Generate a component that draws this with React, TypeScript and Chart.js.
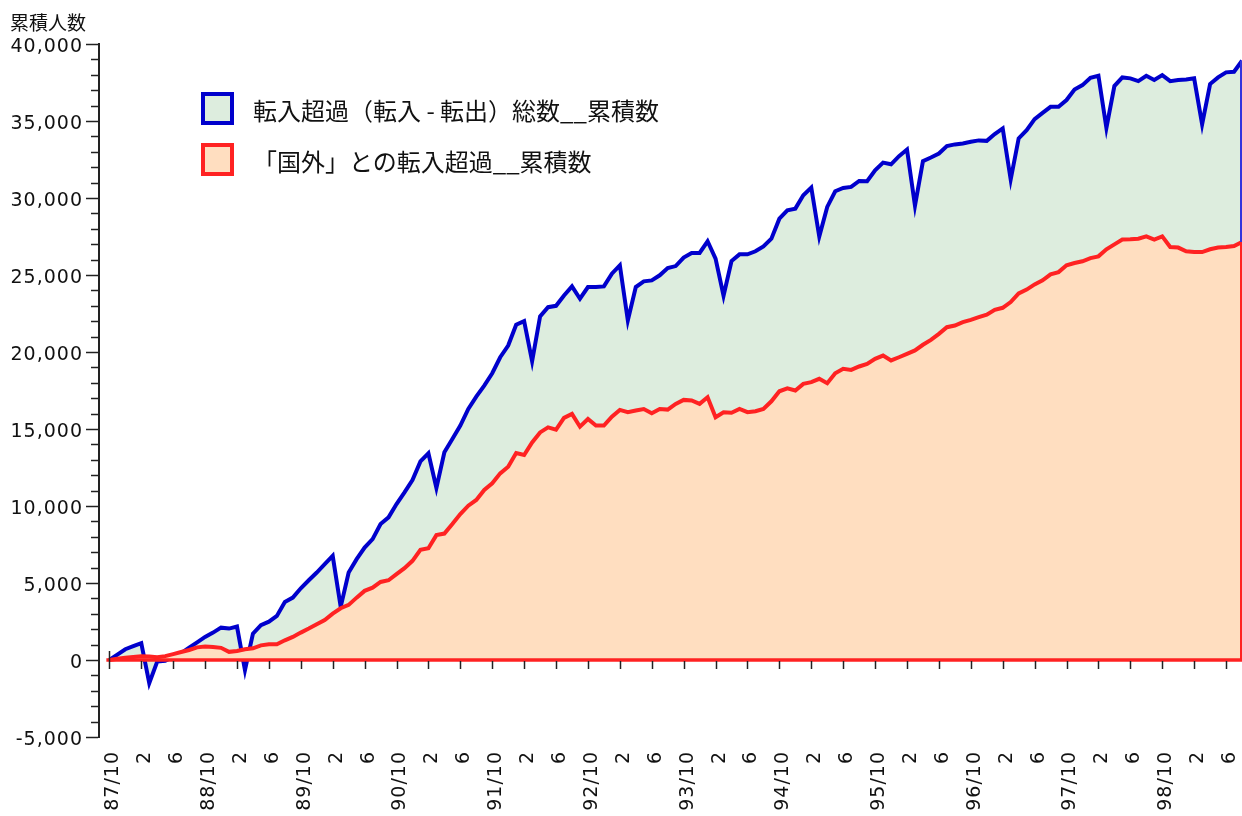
import React, { useEffect, useRef } from "react";
import { Chart, registerables } from "chart.js";

Chart.register(...registerables);

// Monthly categories: 1987/10 .. 1999/08
const months: string[] = [
  "87/10", "87/11", "87/12",
  "88/01", "88/02", "88/03", "88/04", "88/05", "88/06", "88/07", "88/08", "88/09", "88/10", "88/11", "88/12",
  "89/01", "89/02", "89/03", "89/04", "89/05", "89/06", "89/07", "89/08", "89/09", "89/10", "89/11", "89/12",
  "90/01", "90/02", "90/03", "90/04", "90/05", "90/06", "90/07", "90/08", "90/09", "90/10", "90/11", "90/12",
  "91/01", "91/02", "91/03", "91/04", "91/05", "91/06", "91/07", "91/08", "91/09", "91/10", "91/11", "91/12",
  "92/01", "92/02", "92/03", "92/04", "92/05", "92/06", "92/07", "92/08", "92/09", "92/10", "92/11", "92/12",
  "93/01", "93/02", "93/03", "93/04", "93/05", "93/06", "93/07", "93/08", "93/09", "93/10", "93/11", "93/12",
  "94/01", "94/02", "94/03", "94/04", "94/05", "94/06", "94/07", "94/08", "94/09", "94/10", "94/11", "94/12",
  "95/01", "95/02", "95/03", "95/04", "95/05", "95/06", "95/07", "95/08", "95/09", "95/10", "95/11", "95/12",
  "96/01", "96/02", "96/03", "96/04", "96/05", "96/06", "96/07", "96/08", "96/09", "96/10", "96/11", "96/12",
  "97/01", "97/02", "97/03", "97/04", "97/05", "97/06", "97/07", "97/08", "97/09", "97/10", "97/11", "97/12",
  "98/01", "98/02", "98/03", "98/04", "98/05", "98/06", "98/07", "98/08", "98/09", "98/10", "98/11", "98/12",
  "99/01", "99/02", "99/03", "99/04", "99/05", "99/06", "99/07", "99/08",
];

// 転入超過（転入 - 転出）総数__累積数
const totalNetInflow: number[] = [
  0, 350, 700,
  900, 1090, -1500, -100, -50, 200, 450, 800, 1150, 1500, 1780, 2100,
  2040, 2170, -650, 1710, 2260, 2490, 2860, 3770, 4050, 4660, 5180, 5680,
  6220, 6760, 3450, 5680, 6550, 7300, 7850, 8830, 9260, 10130, 10880, 11690,
  12900, 13420, 11170, 13490, 14350, 15220, 16300, 17100, 17820, 18620, 19660, 20420,
  21770, 22000, 19400, 22310, 22910, 23000, 23670, 24260, 23460, 24220, 24220, 24260,
  25090, 25630, 22050, 24220, 24590, 24650, 24980, 25450, 25580, 26130, 26430, 26430,
  27190, 26060, 23650, 25910, 26340, 26340, 26540, 26860, 27360, 28660, 29200, 29310,
  30180, 30680, 27500, 29420, 30440, 30650, 30720, 31110, 31090, 31800, 32300, 32190,
  32720, 33150, 29500, 32390, 32630, 32890, 33370, 33480, 33540, 33650, 33740, 33710,
  34150, 34520, 31200, 33870, 34400, 35120, 35530, 35920, 35920, 36360, 37050, 37330,
  37810, 37940, 34550, 37270, 37830, 37770, 37590, 37940, 37660, 37980, 37590, 37660,
  37700, 37770, 34780, 37400, 37830, 38160, 38200, 38910,
];

// 「国外」との転入超過__累積数
const foreignNetInflow: number[] = [
  0, 80, 150,
  200, 240, 230, 180, 250, 380, 520, 650, 820, 880, 850, 790,
  530, 590, 700, 760, 950, 1020, 1020, 1280, 1500, 1780, 2040, 2320,
  2600, 3010, 3360, 3580, 4050, 4490, 4700, 5070, 5180, 5570, 5960, 6440,
  7150, 7260, 8110, 8210, 8830, 9480, 10020, 10390, 11040, 11470, 12120, 12550,
  13440, 13310, 14130, 14780, 15110, 14960, 15720, 15980, 15150, 15650, 15220, 15220,
  15800, 16240, 16090, 16200, 16300, 16020, 16300, 16260, 16630, 16890, 16850, 16630,
  17060, 15760, 16090, 16050, 16300, 16090, 16150, 16300, 16800, 17450, 17640, 17500,
  17930, 18040, 18260, 17970, 18620, 18910, 18840, 19060, 19230, 19560, 19770, 19450,
  19660, 19880, 20100, 20470, 20790, 21180, 21610, 21720, 21940, 22090, 22260, 22420,
  22740, 22870, 23240, 23800, 24050, 24390, 24650, 25040, 25190, 25630, 25780, 25890,
  26100, 26210, 26670, 26990, 27300, 27320, 27360, 27510, 27300, 27510, 26820, 26780,
  26540, 26490, 26490, 26670, 26780, 26820, 26880, 27140,
];

const yTickValues: number[] = [-5000, 0, 5000, 10000, 15000, 20000, 25000, 30000, 35000, 40000];
const yMinorStep = 1000;
const tickMonths: string[] = ["10", "02", "06"];

const seriesNames: string[] = [
  "転入超過（転入 - 転出）総数__累積数",
  "「国外」との転入超過__累積数",
];

const BLUE = "#0000CC";
const RED = "#FF2222";
const GREEN_FILL = "rgb(221,237,222)";
const ORANGE_FILL = "rgb(255,222,192)";
const AXIS = "#222222";
const TEXT = "#111111";
const TICK_FONT = { family: "'DejaVu Sans', Verdana, sans-serif", size: 19 };
const TICK_SPACING = "1px";

function tickLabel(i: number): string {
  const m = months[i];
  if (!m) return "";
  const [, mm] = m.split("/");
  if (mm === "10") return m;
  return String(parseInt(mm, 10));
}

const xTickIndices: number[] = months
  .map((m, i) => (tickMonths.includes(m.split("/")[1]) ? i : -1))
  .filter((i) => i >= 0);

const decorPlugin = {
  id: "decor",
  beforeDraw(chart: any) {
    chart.ctx.letterSpacing = TICK_SPACING;
  },
  afterDatasetsDraw(chart: any) {
    const { ctx, scales, chartArea } = chart;
    const xs = scales.x;
    const ys = scales.y;
    const y0 = ys.getPixelForValue(0);
    const last = months.length - 1;
    const xr = Math.min(xs.getPixelForValue(last), chartArea.right - 1);
    ctx.save();
    ctx.letterSpacing = "0px";
    // right closing edges of the areas
    ctx.lineWidth = 2;
    ctx.strokeStyle = "#3333DD";
    ctx.beginPath();
    ctx.moveTo(xr, ys.getPixelForValue(totalNetInflow[last]));
    ctx.lineTo(xr, ys.getPixelForValue(foreignNetInflow[last]));
    ctx.stroke();
    ctx.strokeStyle = RED;
    ctx.beginPath();
    ctx.moveTo(xr, ys.getPixelForValue(foreignNetInflow[last]));
    ctx.lineTo(xr, y0);
    ctx.stroke();
    // zero line (bottom edge of the areas)
    ctx.lineWidth = 3.5;
    ctx.strokeStyle = RED;
    ctx.beginPath();
    ctx.moveTo(xs.getPixelForValue(0) - 3, y0);
    ctx.lineTo(chartArea.right, y0);
    ctx.stroke();
    ctx.restore();
  },
  afterDraw(chart: any) {
    const { ctx, scales, chartArea } = chart;
    const xs = scales.x;
    const ys = scales.y;
    const y0 = ys.getPixelForValue(0);
    ctx.save();
    ctx.letterSpacing = "0px";
    ctx.strokeStyle = AXIS;
    ctx.lineWidth = 1.5;
    // minor y ticks
    for (let v = yTickValues[0]; v <= yTickValues[yTickValues.length - 1]; v += yMinorStep) {
      if (yTickValues.includes(v)) continue;
      const y = Math.round(ys.getPixelForValue(v)) + 0.5;
      ctx.beginPath();
      ctx.moveTo(chartArea.left - 8, y);
      ctx.lineTo(chartArea.left, y);
      ctx.stroke();
    }
    // x tick marks on the zero line
    xTickIndices.forEach((i, k) => {
      const x = Math.round(xs.getPixelForValue(i)) + 0.5;
      ctx.beginPath();
      ctx.moveTo(x, k === 0 ? y0 - 9 : y0 + 1);
      ctx.lineTo(x, y0 + 9);
      ctx.stroke();
    });
    ctx.restore();
    ctx.letterSpacing = "0px";
  },
};

export default function App() {
  const canvasRef = useRef<HTMLCanvasElement | null>(null);

  useEffect(() => {
    document.body.style.margin = "0";
    const canvas = canvasRef.current;
    if (!canvas) return;
    const chart = new Chart(canvas, {
      type: "line",
      data: {
        datasets: [
          {
            label: seriesNames[0],
            data: totalNetInflow.map((v, i) => ({ x: i, y: v })),
            borderColor: BLUE,
            backgroundColor: GREEN_FILL,
            fill: "origin",
            borderWidth: 4,
            pointRadius: 0,
            tension: 0,
            borderJoinStyle: "miter",
            order: 3,
          },
          {
            label: seriesNames[1],
            data: foreignNetInflow.map((v, i) => ({ x: i, y: v })),
            borderColor: RED,
            backgroundColor: ORANGE_FILL,
            fill: "origin",
            borderWidth: 4,
            pointRadius: 0,
            tension: 0,
            borderJoinStyle: "miter",
            order: 2,
          },
        ],
      },
      options: {
        responsive: false,
        animation: false,
        devicePixelRatio: 1,
        layout: { padding: { top: 44, left: 0, right: 0, bottom: 0 } },
        plugins: {
          legend: { display: false },
          tooltip: { enabled: false },
          title: { display: false },
        },
        scales: {
          x: {
            type: "linear",
            min: -1.3,
            max: months.length - 1,
            afterBuildTicks: (s: any) => {
              s.ticks = xTickIndices.map((v) => ({ value: v }));
            },
            afterFit: (s: any) => {
              s.height = 79;
              s.paddingLeft = 0;
              s.paddingRight = 0;
            },
            grid: { display: false, drawTicks: false },
            border: { display: false },
            ticks: {
              autoSkip: false,
              minRotation: 90,
              maxRotation: 90,
              padding: 14,
              labelOffset: 4,
              color: TEXT,
              font: TICK_FONT,
              callback: (v: any) => tickLabel(Number(v)),
            },
          },
          y: {
            type: "linear",
            min: yTickValues[0],
            max: yTickValues[yTickValues.length - 1],
            afterBuildTicks: (s: any) => {
              s.ticks = yTickValues.map((v) => ({ value: v }));
            },
            afterFit: (s: any) => {
              s.width = 99;
            },
            grid: {
              drawOnChartArea: false,
              drawTicks: true,
              tickLength: 13,
              tickColor: AXIS,
              tickWidth: 1.5,
            },
            border: { display: true, color: AXIS, width: 2 },
            ticks: {
              padding: 3,
              labelOffset: 3,
              color: TEXT,
              font: TICK_FONT,
              callback: (v: any) => Number(v).toLocaleString("en-US"),
            },
          },
        },
      } as any,
      plugins: [decorPlugin],
    });
    return () => chart.destroy();
  }, []);

  const legendText: React.CSSProperties = {
    position: "absolute",
    left: 253,
    font: "24px 'Noto Sans CJK JP', sans-serif",
    lineHeight: "24px",
    color: TEXT,
    whiteSpace: "nowrap",
  };
  const box = (top: number, border: string, fill: string): React.CSSProperties => ({
    position: "absolute",
    left: 201,
    top,
    width: 25,
    height: 25,
    border: `4px solid ${border}`,
    background: fill,
  });

  return (
    <div style={{ position: "fixed", left: 0, top: 0, width: 1242, height: 816, background: "#fff", overflow: "hidden" }}>
      <canvas ref={canvasRef} width={1242} height={816} style={{ position: "absolute", left: 0, top: 0 }} />
      <div
        style={{
          position: "absolute",
          left: 10,
          top: 12,
          font: "19px 'Noto Sans CJK JP', sans-serif",
          lineHeight: "19px",
          color: TEXT,
        }}
      >
        累積人数
      </div>
      <div style={box(92, BLUE, GREEN_FILL)} />
      <div style={{ ...legendText, top: 98 }}>{seriesNames[0]}</div>
      <div style={box(143, RED, ORANGE_FILL)} />
      <div style={{ ...legendText, top: 149 }}>{seriesNames[1]}</div>
    </div>
  );
}
